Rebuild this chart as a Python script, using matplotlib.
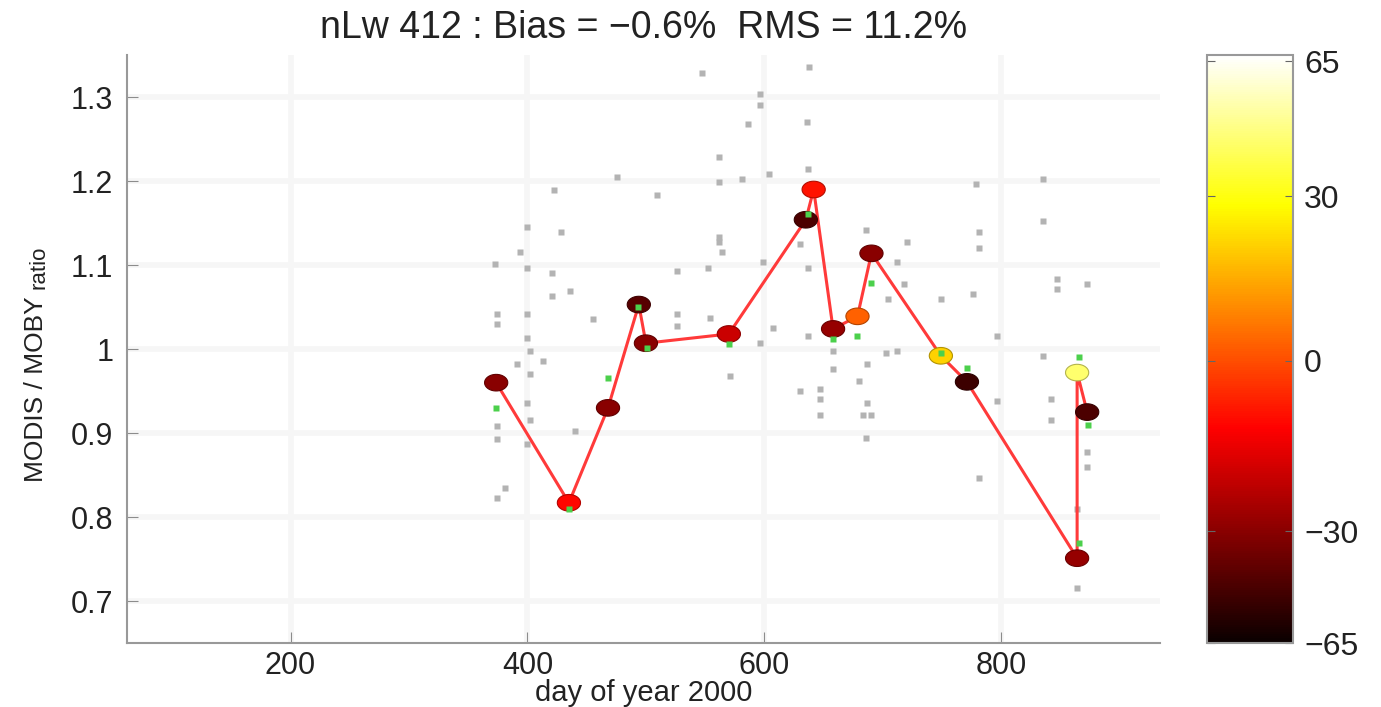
import numpy as np
import matplotlib
matplotlib.use("Agg")
import matplotlib.pyplot as plt
from matplotlib.colors import Normalize
from matplotlib.cm import ScalarMappable

plt.rcParams['font.family'] = ['Liberation Sans', 'DejaVu Sans']

# matchup day, ratio, colour value (colour bar units)
day = [373.6, 435, 468, 494, 500, 570, 635, 641.6, 658, 678.6, 690.4,
       749, 771, 864, 864, 872.5]
ratio = [0.960, 0.817, 0.930, 1.053, 1.007, 1.018, 1.154, 1.190, 1.024,
         1.039, 1.114, 0.992, 0.961, 0.751, 0.972, 0.925]
cval = [-30, -11, -30, -44, -30, -20, -47, -9, -28, 3, -30, 21, -51, -28,
        44, -47]

# median of each matchup
g_day = [373.6, 435, 468, 493, 501, 570, 636.5, 657.6, 678.6, 690.4,
         749.4, 771.3, 865.7, 865.7, 873.3]
g_ratio = [0.930, 0.810, 0.966, 1.050, 1.001, 1.006, 1.161, 1.012, 1.015,
           1.079, 0.995, 0.977, 0.769, 0.991, 0.910]

# individual pixels
p_day = [373, 374, 374, 374, 374, 374, 381, 394, 400, 400, 400, 400, 402,
         391, 402, 400, 402, 400, 413, 421, 421, 422, 428, 436, 440, 455,
         476, 509, 526, 526, 526, 552, 554, 547, 562, 562, 562, 562, 564,
         571, 581, 586, 596, 596, 604, 599, 607, 596, 630, 637, 638, 636,
         637, 637, 658, 658, 647, 647, 647, 630, 686, 720, 712, 718, 704,
         749, 781, 781, 779, 835, 835, 776, 796, 703, 712, 687, 680, 687,
         683, 690, 686, 847, 847, 835, 842, 842, 796, 781, 872, 872, 864,
         864, 872]
p_ratio = [1.101, 1.042, 1.030, 0.909, 0.893, 0.823, 0.835, 1.116, 1.145,
           1.097, 1.042, 1.013, 0.998, 0.982, 0.970, 0.936, 0.916, 0.887,
           0.986, 1.090, 1.063, 1.190, 1.140, 1.069, 0.903, 1.036, 1.205,
           1.184, 1.093, 1.042, 1.027, 1.097, 1.037, 1.329, 1.229, 1.199,
           1.134, 1.128, 1.116, 0.968, 1.203, 1.268, 1.304, 1.291, 1.209,
           1.104, 1.025, 1.007, 1.125, 1.215, 1.336, 1.270, 1.096, 1.015,
           0.998, 0.976, 0.953, 0.941, 0.921, 0.950, 1.142, 1.128, 1.104,
           1.078, 1.060, 1.060, 1.140, 1.120, 1.197, 1.203, 1.152, 1.066,
           1.015, 0.995, 0.998, 0.982, 0.962, 0.936, 0.921, 0.921, 0.894,
           1.083, 1.071, 0.992, 0.941, 0.915, 0.938, 0.847, 0.877, 0.859,
           0.716, 0.810, 1.078]

x_ticks = [200, 400, 600, 800]
y_ticks = [0.7, 0.8, 0.9, 1.0, 1.1, 1.2, 1.3]
y_ticklabels = ['0.7', '0.8', '0.9', '1', '1.1', '1.2', '1.3']
cb_values = [-65, -30, 0, 30, 65]
cb_pos = [0.0, 0.19, 0.48, 0.76, 0.99]
cb_labels = ['\u221265', '\u221230', '0', '30', '65']

fig = plt.figure(figsize=(13.81, 7.07), dpi=100)
ax = fig.add_axes([0.092, 0.0905, 0.748, 0.8315])

# elliptical marker
t = np.linspace(0, 2 * np.pi, 40)
ell = np.column_stack([1.4 * np.cos(t), np.sin(t)])

cmap = plt.get_cmap('hot')
frac = np.interp(cval, cb_values, cb_pos)
face = cmap(frac)
edge = face.copy()
edge[:, :3] *= 0.7

for xv in x_ticks:
    ax.axvline(xv, color='#f6f6f6', lw=4, zorder=0)
for yv in y_ticks:
    ax.axhline(yv, color='#f6f6f6', lw=4, zorder=0)

ax.plot(p_day, p_ratio, 's', ms=4.5, color='0.7', mec='none', zorder=1)
ax.plot(day, ratio, '-', color='#ff3a3a', lw=2.2, zorder=2)
ax.scatter(day, ratio, s=280, marker=ell, c=face, edgecolors=edge,
           linewidths=0.8, zorder=3)
ax.plot(g_day, g_ratio, 's', ms=4, color='#4cd04c', mec='none', zorder=4)

ax.set_xlim(62, 934)
ax.set_ylim(0.65, 1.35)
ax.set_xticks(x_ticks)
ax.set_yticks(y_ticks)
ax.set_yticklabels(y_ticklabels)
ax.tick_params(direction='in', length=8, color='0.55', labelsize=22,
               labelcolor='#222222')
ax.tick_params(axis='x', pad=6)
ax.tick_params(axis='y', pad=10)
for s in ['top', 'right']:
    ax.spines[s].set_visible(False)
for s in ['left', 'bottom']:
    ax.spines[s].set_color('0.6')
    ax.spines[s].set_linewidth(1.5)

ax.set_xlabel('day of year 2000', fontsize=21, color='#222222', labelpad=-2)
ax.set_title('nLw 412 : Bias = \u22120.6%  RMS = 11.2%', fontsize=27,
             color='#222222', pad=12)

fig.text(0.026, 0.45, 'MODIS / MOBY', rotation=90, fontsize=19,
         color='#222222', ha='center', va='center')
fig.text(0.028, 0.622, 'ratio', rotation=90, fontsize=16,
         color='#222222', ha='center', va='center')

# colour bar
cax = fig.add_axes([0.874, 0.0905, 0.0623, 0.8315])
sm = ScalarMappable(norm=Normalize(0, 1), cmap=cmap)
cb = fig.colorbar(sm, cax=cax)
cb.set_ticks(cb_pos)
cb.set_ticklabels(cb_labels)
cb.outline.set_edgecolor('0.6')
cb.outline.set_linewidth(1.5)
cax.tick_params(direction='in', length=6, color='0.4', left=True,
                right=True, labelsize=23, labelcolor='#222222', pad=8)

fig.savefig('out.png', dpi=100)
